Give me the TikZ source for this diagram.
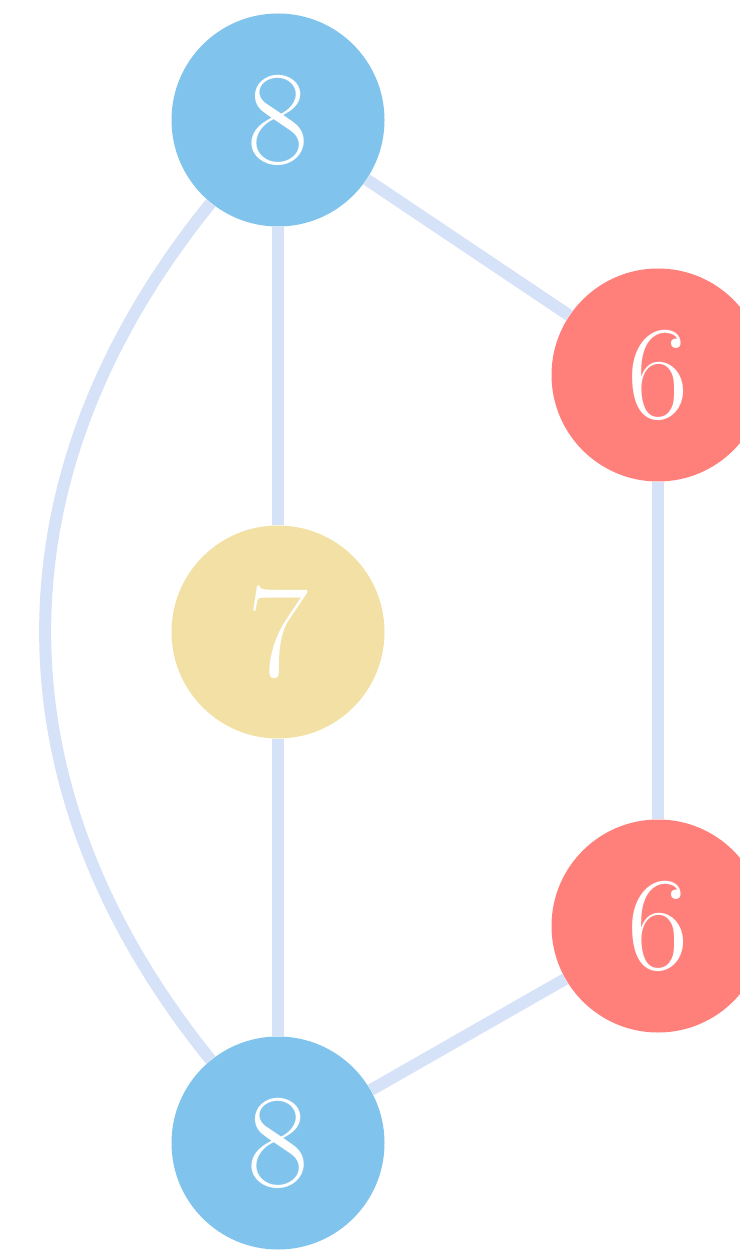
\documentclass[tikz,border=0pt]{standalone}
\usepackage{fontspec}
\usetikzlibrary{positioning}

\definecolor{vblue}{HTML}{80C3EC}
\definecolor{vred}{HTML}{FF7F7B}
\definecolor{vyellow}{HTML}{F2E0A4}
\definecolor{vedge}{HTML}{D6E2F8}

\begin{document}
\begin{tikzpicture}[
    vtx/.style={circle,minimum size=4.26cm,inner sep=0pt,text=white,
      font=\fontsize{76}{80}\selectfont},
    link/.style={vedge,line width=0.24cm}]
  \useasboundingbox (0,0) rectangle (14.78,-25.04);
  \node[vtx,fill=vblue] (top) at (5.56,-2.40) {8};
  \node[vtx,fill=vred] (upper) at (13.16,-7.50) {6};
  \node[vtx,fill=vyellow] (mid) at (5.56,-12.64) {7};
  \node[vtx,fill=vred] (lower) at (13.16,-18.52) {6};
  \node[vtx,fill=vblue] (bottom) at (5.56,-22.86) {8};
  \draw[link] (top) -- (upper);
  \draw[link] (top) -- (mid);
  \draw[link] (mid) -- (bottom);
  \draw[link] (upper) -- (lower);
  \draw[link] (lower) -- (bottom);
  \draw[link] (top) to[out=231,in=129,looseness=1.05] (bottom);
\end{tikzpicture}
\end{document}
